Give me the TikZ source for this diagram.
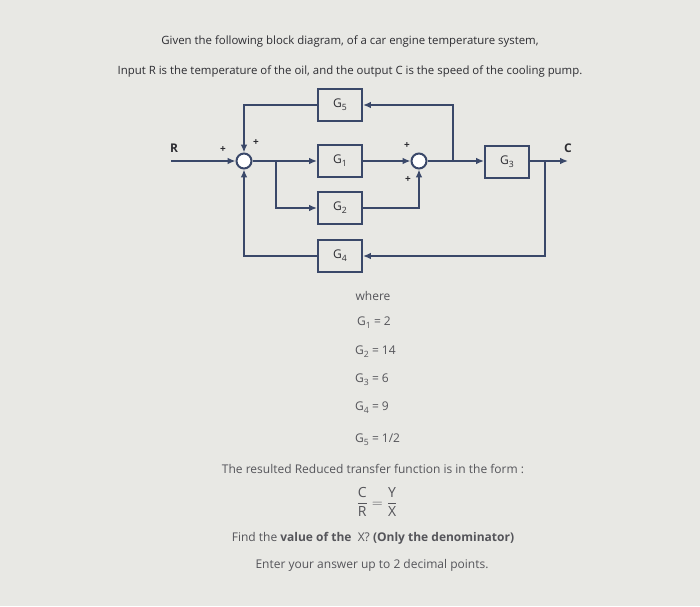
\documentclass[tikz,border=0pt]{standalone}
\usepackage{amsmath}
\usepackage{fontspec}
\setmainfont{Open Sans}
\usepackage{tikz}
\usetikzlibrary{arrows.meta,positioning,calc}
\definecolor{wire}{RGB}{58,72,105}
\definecolor{paper}{RGB}{232,232,228}
\definecolor{ink}{RGB}{45,45,50}
\definecolor{softink}{RGB}{85,85,90}
\newcommand{\gsub}[1]{G\raisebox{-0.5ex}{\fontsize{0.72em}{0.8em}\selectfont #1}}

\begin{document}
\begin{tikzpicture}[
  x=1pt,y=-1pt,
  >={Latex[length=2.8mm,width=2.4mm]},
  block/.style={draw=wire,line width=2pt,fill=paper,minimum width=44pt,minimum height=32pt,inner sep=0pt,font=\fontsize{12}{14}\selectfont,text=ink},
  sumnode/.style={circle,draw=wire,line width=2pt,fill=white,minimum size=15pt,inner sep=0pt},
  wireline/.style={->,wire,line width=2pt},
  sgn/.style={font=\fontsize{10}{10}\selectfont\bfseries,text=ink,inner sep=0pt},
  sig/.style={font=\fontsize{12}{14}\selectfont\bfseries,text=ink,inner sep=0pt},
  qtext/.style={font=\fontsize{11.4}{13}\selectfont,text=ink,inner sep=0pt},
  ltext/.style={font=\fontsize{12}{14}\selectfont,text=softink,inner sep=0pt}
]
\useasboundingbox (0,0) rectangle (700,606);
\fill[paper] (0,0) rectangle (700,606);

% ---- question text ----
\node[qtext] (line1) at (350,42) {Given the following block diagram, of a car engine temperature system,};
\node[qtext] (line2) at (350,72) {Input R is the temperature of the oil, and the output C is the speed of the cooling pump.};

% ---- forward path ----
\coordinate (rin) at (171,161);
\node[sumnode] (s1) at (244,161) {};
\node[block] (g1) at (340,161) {\gsub{1}};
\node[sumnode] (s2) at (419,161) {};
\node[block] (g3) at (507,162) {\gsub{3}};
\coordinate (cout) at (568,161);

% ---- parallel and feedback blocks ----
\node[block] (g5) at (340,105) {\gsub{5}};
\node[block] (g2) at (340,208) {\gsub{2}};
\node[block] (g4) at (340,256) {\gsub{4}};

% take-off points
\coordinate (b1) at (276,161);
\coordinate (t1) at (453,161);
\coordinate (t2) at (545,161);

\draw[wireline] (rin) -- (s1);
\draw[wireline] (s1) -- (g1);
\draw[wireline] (b1) |- (g2);
\draw[wireline] (g1) -- (s2);
\draw[wireline] (g2) -| (s2);
\draw[wireline] (s2) -- (g3.west |- s2);
\draw[wireline] (t1) |- (g5);
\draw[wireline] (g5) -| (s1);
\draw[wireline] (g3.east |- cout) -- (cout);
\draw[wireline] (t2) |- (g4);
\draw[wireline] (g4) -| (s1);

% signals and signs
\node[sig] (rlbl) at (174,148) {R};
\node[sig] (clbl) at (568,148) {C};
\node[sgn] (p1) at (223,150) {+};
\node[sgn] (p2) at (256,143) {+};
\node[sgn] (p3) at (407,146) {+};
\node[sgn] (p4) at (408,180) {+};

% ---- values ----
\node[ltext] (where) at (373,296) {where};
\node[ltext,anchor=west] (v1) at (357,323) {\gsub{1} = 2};
\node[ltext,anchor=west] (v2) at (355,352) {\gsub{2} = 14};
\node[ltext,anchor=west] (v3) at (355,380) {\gsub{3} = 6};
\node[ltext,anchor=west] (v4) at (355,408) {\gsub{4} = 9};
\node[ltext,anchor=west] (v5) at (355,440) {\gsub{5} = 1/2};
\node[ltext] (form) at (373,469) {The resulted Reduced transfer function is in the form :};
\node[ltext,font=\fontsize{14}{16}\selectfont] (frac) at (377,502) {$\color{softink}\dfrac{\text{C}}{\text{R}}=\dfrac{\text{Y}}{\text{X}}$};
\node[ltext] (find) at (373,538) {Find the \textbf{value of the}\ \ X? \textbf{(Only the denominator)}};
\node[ltext] (enter) at (372,565) {Enter your answer up to 2 decimal points.};

\end{tikzpicture}
\end{document}
